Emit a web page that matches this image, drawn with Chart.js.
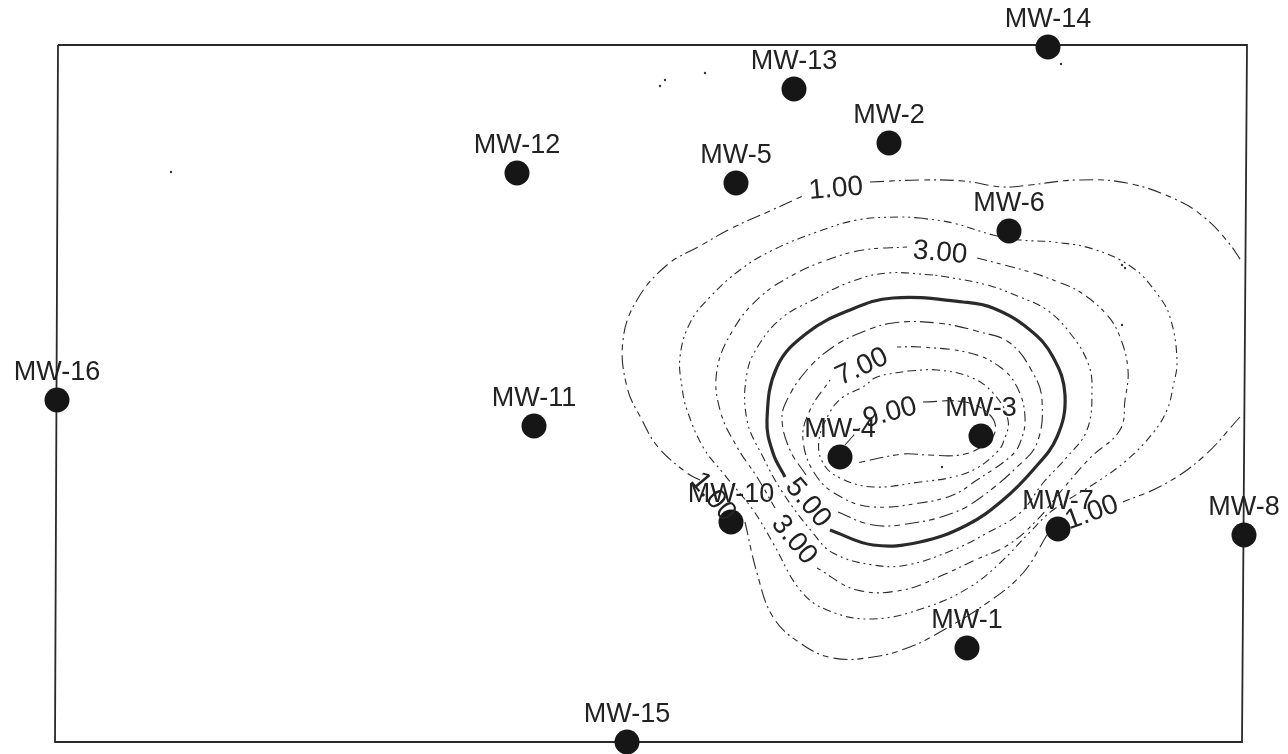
<!DOCTYPE html>
<html>
<head>
<meta charset="utf-8">
<title>Contour map</title>
<script src="https://cdn.jsdelivr.net/npm/chart.js@4/dist/chart.umd.min.js"></script>
<style>
  html, body { margin: 0; padding: 0; background: #fff; }
  canvas { display: block; }
</style>
</head>
<body>
<canvas id="contourChart" width="1288" height="754"></canvas>
<script>
// monitoring wells
const wellNames = ['MW-14', 'MW-13', 'MW-2', 'MW-12', 'MW-5', 'MW-6', 'MW-16', 'MW-11', 'MW-3', 'MW-4', 'MW-10', 'MW-7', 'MW-8', 'MW-1', 'MW-15'];
const wellX = [1048, 794, 889, 517, 736, 1009, 57, 534, 981, 840, 731, 1058, 1244, 967, 627];
const wellY = [47, 89, 143, 173, 183, 231, 400, 426, 436, 457, 522, 529, 535, 648, 742];

// contour labels
const levelText = ['1.00', '3.00', '7.00', '9.00', '5.00', '3.00', '1.00', '1.00'];
const levelX = [836, 940, 862, 890, 808, 794, 713, 1092];
const levelY = [189, 253, 367, 413, 503, 540, 497, 513];
const levelAngle = [-5, 5, -25, -15, 50, 50, 50, -20];

// site boundary
const frameX = [58, 1247, 1242, 55, 58];
const frameY = [45, 45, 742, 742, 45];

// contour lines, null = break in the line
const c1X = [870, 920, 963, 1003, 1030, 1077, 1127, 1177, 1205, 1228, 1242, null, 1240, 1203, 1163, 1123, null, 1047, 1023, 987, 940, 910, 873, 833, 800, 773, 757, 745, null, 700, 687, 658, 642, 627, 623, 637, 667, 700, 730, 772, 805];
const c1Y = [182, 180, 181, 187, 185, 180, 183, 200, 218, 242, 262, null, 417, 457, 485, 502, null, 535, 573, 603, 632, 647, 657, 658, 643, 617, 573, 522, null, 480, 473, 447, 420, 387, 340, 300, 265, 246, 229, 210, 195];

const c2X = [920, 953, 993, 1020, 1053, 1093, 1133, 1158, 1170, 1177, 1173, 1167, 1153, 1127, 1100, 1053, 1030, 1000, 970, 927, 873, 827, 800, 773, 753, 723, 703, 687, 682, 680, 690, 710, 740, 773, 817, 857, 900, 920];
const c2Y = [218, 223, 235, 240, 242, 249, 268, 295, 317, 360, 387, 410, 433, 460, 480, 510, 532, 563, 587, 607, 619, 610, 590, 543, 510, 473, 447, 410, 387, 357, 323, 297, 270, 250, 232, 220, 217, 218];

const c3X = [907, 863, 827, 793, 760, 733, 717, 720, 737, 757, 775, null, 817, 857, 903, 943, 975, 1008, 1037, 1062, 1090, 1120, 1125, 1128, 1120, 1107, 1080, 1058, 1030, 977];
const c3Y = [247, 250, 260, 275, 297, 330, 370, 410, 447, 477, 508, null, 568, 590, 590, 575, 560, 545, 520, 490, 458, 430, 400, 370, 337, 315, 292, 282, 272, 258];

const c4X = [933, 887, 850, 813, 783, 760, 747, 747, 763, 783, 813, 833, 873, 907, 953, 987, 1020, 1043, 1067, 1087, 1092, 1088, 1070, 1047, 1020, 987, 947, 933];
const c4Y = [275, 273, 282, 300, 317, 343, 373, 420, 457, 493, 533, 553, 565, 565, 550, 533, 513, 483, 457, 430, 390, 363, 333, 310, 297, 285, 277, 275];

const c5X = [785, 773, 767, 777, 807, 850, 893, 963, 993, 1030, 1053, 1065, 1057, 1033, 1003, 967, 920, 873, 830];
const c5Y = [477, 453, 420, 367, 333, 310, 298, 302, 308, 330, 357, 395, 437, 470, 500, 525, 542, 545, 530];

const c6X = [806, 790, 782, 787, 807, 833, 860, 893, 937, 980, 1010, 1033, 1042, 1037, 1017, 980, 953, 913, 873, 833];
const c6Y = [475, 450, 420, 400, 370, 347, 333, 323, 323, 332, 343, 373, 400, 443, 467, 498, 513, 523, 525, 510];

const c7X = [897, 920, 970, 1000, 1017, 1025, 1020, 1010, 977, 953, 920, 873, 843, 817, 803, 810, 830];
const c7Y = [347, 347, 353, 367, 387, 417, 443, 457, 480, 495, 503, 507, 498, 477, 440, 410, 380];

const c8X = [908, 937, 970, 993, 1008, 1003, 997, 977, 953, 920, 873, 840, 823, 819, 830, 843, 863, 877, 908];
const c8Y = [371, 370, 377, 393, 420, 443, 452, 468, 477, 482, 487, 478, 463, 440, 412, 397, 387, 377, 371];

const c9X = [923, 965, 990, 995, 981, 960, 927, 903, 857, null, 845, 860];
const c9Y = [402, 402, 415, 432, 447, 455, 455, 454, 463, null, 445, 428];

// small specks left on the scan
const speckX = [171, 660, 665, 705, 1061, 942, 1122, 1125, 1122];
const speckY = [172, 86, 80, 73, 64, 467, 265, 268, 325];

const toPoints = (xs, ys) => xs.map((x, i) => ({ x: x, y: ys[i] }));

const contourLine = (xs, ys, dash, width) => ({
  data: toPoints(xs, ys),
  showLine: true,
  pointRadius: 0,
  borderColor: '#2a2a2a',
  borderWidth: width || 1.1,
  borderDash: dash,
  tension: 0.4,
  spanGaps: false
});

const dashA = [8, 4, 2, 4, 2, 4];
const dashB = [14, 5, 6, 4, 2, 4];
const dashC = [4, 4, 2, 4, 10, 5];

// draws well names and contour values on top of the marks
const labelPlugin = {
  id: 'mapLabels',
  afterDatasetsDraw(chart) {
    const ctx = chart.ctx;
    const x = chart.scales.x;
    const y = chart.scales.y;
    ctx.save();
    ctx.fillStyle = '#222';
    ctx.textAlign = 'center';
    ctx.textBaseline = 'middle';
    ctx.font = '27px "Liberation Sans", Arial, sans-serif';
    wellNames.forEach((name, i) => {
      ctx.fillText(name, x.getPixelForValue(wellX[i]), y.getPixelForValue(wellY[i]) - 27);
    });
    ctx.font = '28px "Liberation Sans", Arial, sans-serif';
    levelText.forEach((text, i) => {
      ctx.save();
      ctx.translate(x.getPixelForValue(levelX[i]), y.getPixelForValue(levelY[i]));
      ctx.rotate(levelAngle[i] * Math.PI / 180);
      ctx.fillText(text, 0, 0);
      ctx.restore();
    });
    ctx.restore();
  }
};

new Chart(document.getElementById('contourChart'), {
  type: 'scatter',
  data: {
    datasets: [
      {
        data: toPoints(wellX, wellY),
        pointRadius: 12.5,
        pointBackgroundColor: '#161616',
        pointBorderWidth: 0,
        clip: false
      },
      {
        data: toPoints(speckX, speckY),
        pointRadius: 1.2,
        pointBackgroundColor: '#333',
        pointBorderWidth: 0
      },
      {
        data: toPoints(frameX, frameY),
        showLine: true,
        pointRadius: 0,
        borderColor: '#2a2a2a',
        borderWidth: 1.8,
        tension: 0
      },
      contourLine(c1X, c1Y, dashB),
      contourLine(c2X, c2Y, dashA),
      contourLine(c3X, c3Y, dashC),
      contourLine(c4X, c4Y, dashA),
      contourLine(c5X, c5Y, [], 3.2),
      contourLine(c6X, c6Y, dashB),
      contourLine(c7X, c7Y, dashC),
      contourLine(c8X, c8Y, dashA),
      contourLine(c9X, c9Y, dashB)
    ]
  },
  options: {
    responsive: false,
    animation: false,
    layout: { padding: 0, autoPadding: false },
    plugins: {
      legend: { display: false },
      tooltip: { enabled: false },
      title: { display: false }
    },
    scales: {
      x: { type: 'linear', min: 0, max: 1288, display: false },
      y: { type: 'linear', min: 0, max: 754, reverse: true, display: false }
    }
  },
  plugins: [labelPlugin]
});
</script>
</body>
</html>
